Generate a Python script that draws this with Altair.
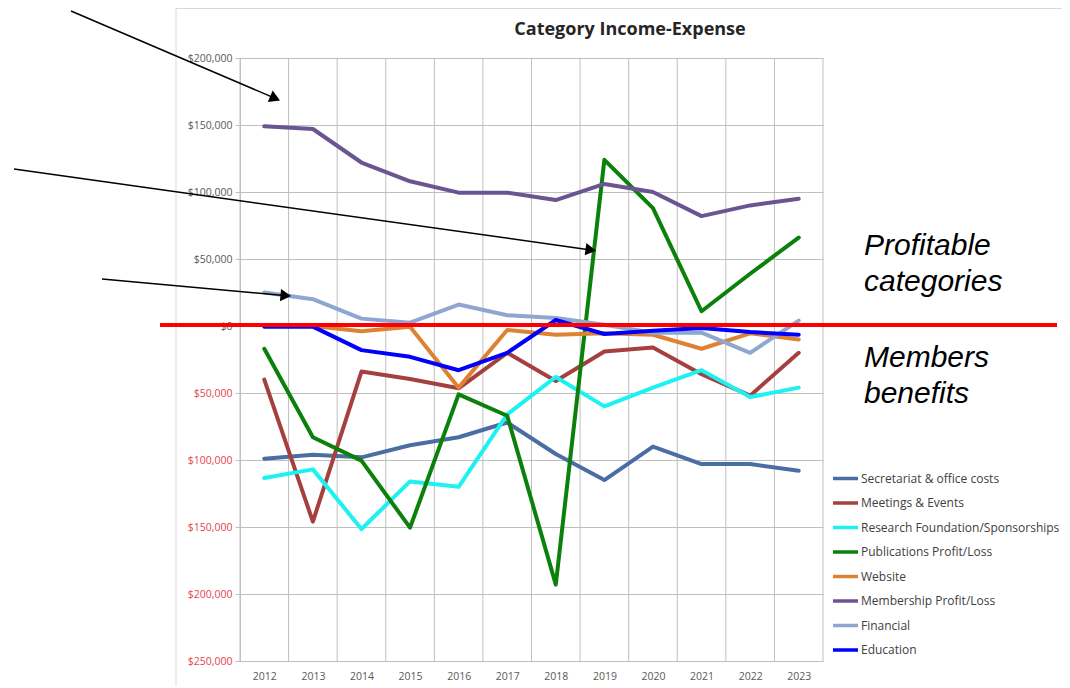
import altair as alt
import pandas as pd

years = list(range(2012, 2024))
series = ["Secretariat & office costs", "Meetings & Events", "Research Foundation/Sponsorships",
          "Publications Profit/Loss", "Website", "Membership Profit/Loss", "Financial", "Education"]
colors = ["#4A6EA4", "#A5403F", "#1CF2F2", "#0B800B", "#DD8233", "#6A5592", "#8FA7D0", "#0000FF"]

secretariat = [-99, -96, -98, -89, -83, -72, -95.5, -115, -90, -103, -103, -108]
meetings = [-40, -146, -34, -39.5, -46.5, -20, -41, -19, -16, -36, -52, -20]
research = [-113.5, -107, -151.5, -116, -120, -66, -38, -60, -46, -33, -53, -46]
publications = [-17, -83, -100.5, -150.5, -51, -67, -193, 124, 88, 11, 39, 66]
website = [0, 0, -4, -0.5, -46, -3, -6.5, -5.5, -6.5, -17, -5.5, -10]
membership = [149, 147, 122, 108, 99.5, 99.5, 94, 106, 100, 82, 90, 95]
financial = [25, 20, 5.5, 2.5, 16, 8, 6, 1, -5, -5, -20, 4]
education = [-0.5, -0.5, -18, -23, -33, -20, 4.5, -6, -3.5, -1.5, -4.5, -6.5]

values_k = [secretariat, meetings, research, publications, website, membership, financial, education]

rows = []
for si, (name, vals) in enumerate(zip(series, values_k)):
    for yr, v in zip(years, vals):
        rows.append({"series": name, "year": yr, "value": v * 1000, "order": si})
df = pd.DataFrame(rows)

bounds = pd.DataFrame({"year": [y - 0.5 for y in years] + [years[-1] + 0.5]})

GRID = "#BFBFBF"
xscale = alt.Scale(domain=[years[0] - 0.5, years[-1] + 0.5], nice=False, zero=False)
yscale = alt.Scale(domain=[-250000, 200000], nice=False, zero=False)
xaxis = alt.Axis(values=years, format="d", grid=False, ticks=False, domainColor=GRID,
                 labelColor="#595959", labelFont="Open Sans", labelFontSize=10.5,
                 labelPadding=10, title=None)

vgrid = alt.Chart(bounds).mark_rule(color=GRID, strokeWidth=1).encode(
    x=alt.X("year:Q", scale=xscale, axis=xaxis)
)

lines = alt.Chart(df).mark_line(strokeWidth=4, strokeJoin="round", strokeCap="round").encode(
    x=alt.X("year:Q", scale=xscale, axis=xaxis),
    y=alt.Y("value:Q", scale=yscale,
            axis=alt.Axis(values=list(range(-250000, 200001, 50000)),
                          labelExpr="'$' + format(abs(datum.value), ',')",
                          labelColor={"condition": {"test": "datum.value < 0", "value": "#E8434F"},
                                      "value": "#595959"},
                          labelFont="Open Sans", labelFontSize=10.5, labelPadding=3,
                          grid=True, gridColor=GRID, domainColor=GRID, tickColor=GRID,
                          tickSize=5, title=None)),
    color=alt.Color("series:N", sort=series, scale=alt.Scale(domain=series, range=colors),
                    legend=alt.Legend(orient="none", legendX=591, legendY=406, title=None,
                                      symbolType="stroke", symbolSize=625, symbolStrokeWidth=3.5,
                                      labelFont="Open Sans", labelFontSize=12, labelColor="#404040",
                                      labelOffset=1, rowPadding=2.5, padding=0, labelLimit=400)),
    detail="series:N",
)

one = pd.DataFrame({"a": [0]})

title = alt.Chart(one).mark_text(text="Category Income-Expense", font="Open Sans", fontWeight="bold",
                                 fontSize=18, color="#262626", align="center", baseline="middle").encode(
    x=alt.value(390), y=alt.value(-28))

frame_top = alt.Chart(one).mark_rule(color="#D9D9D9", strokeWidth=1).encode(
    x=alt.value(-64), x2=alt.value(830), y=alt.value(-49.5))
frame_left = alt.Chart(one).mark_rule(color="#D9D9D9", strokeWidth=1).encode(
    x=alt.value(-64), y=alt.value(-50), y2=alt.value(640))

redline = alt.Chart(one).mark_rule(color="#FF0000", strokeWidth=4).encode(
    x=alt.value(-80), x2=alt.value(817), y=alt.value(267))

def txt(s, x, y):
    return alt.Chart(one).mark_text(text=s, font="Liberation Sans", fontStyle="italic", fontSize=30,
                                    color="#000000", align="left", baseline="middle").encode(
        x=alt.value(x), y=alt.value(y))

texts = [txt("Profitable", 624, 188), txt("categories", 624, 224),
         txt("Members", 624, 300), txt("benefits", 624, 336)]

def arrow(x1, y1, xt, yt, ang):
    dx, dy = xt - x1, yt - y1
    L = (dx * dx + dy * dy) ** 0.5
    ux, uy = dx / L, dy / L
    cx, cy = xt - 6 * ux, yt - 6 * uy
    ln = alt.Chart(one).mark_rule(color="#000000", strokeWidth=1.5).encode(
        x=alt.value(x1 - 240), y=alt.value(y1 - 58), x2=alt.value(cx - 240), y2=alt.value(cy - 58))
    hd = alt.Chart(one).mark_point(shape="triangle", filled=True, size=150, color="#000000",
                                   opacity=1, angle=ang).encode(
        x=alt.value(cx - 240), y=alt.value(cy - 58))
    return [ln, hd]

arrows = arrow(71, 11, 279, 100, 113.2) + arrow(14, 169, 595, 250.5, 98) + arrow(102, 279, 290, 296, 95.2)

chart = alt.layer(frame_top, frame_left, vgrid, lines, title, redline, *texts, *arrows).properties(
    width=583, height=603,
    padding={"left": 232, "top": 50, "right": 239, "bottom": 25},
    autosize=alt.AutoSizeParams(type="none"),
).configure_view(strokeWidth=0)

chart.save("out.html", embed_options={"renderer": "svg", "actions": False})
